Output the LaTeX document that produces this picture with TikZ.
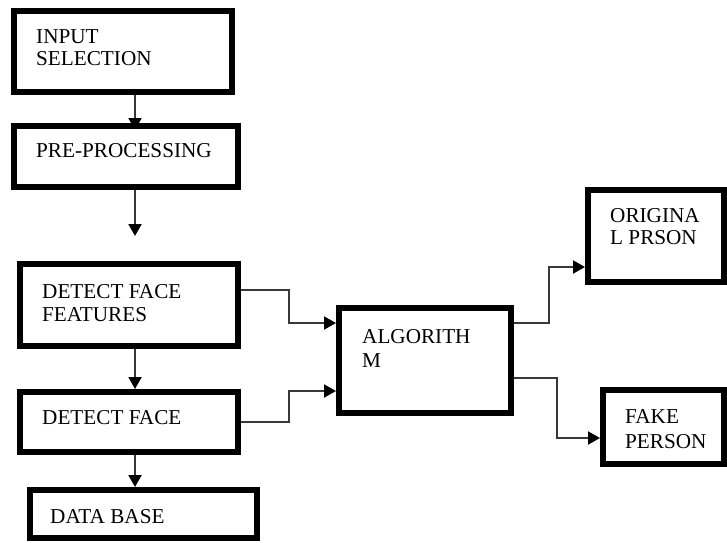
\documentclass[tikz,border=0pt]{standalone}
\usepackage{fontspec}
\setmainfont{Liberation Serif}
\usetikzlibrary{arrows.meta,backgrounds}
\begin{document}
\begin{tikzpicture}[x=1pt,y=-1pt,
  box/.style={draw=black,line width=6pt,fill=white,rectangle,inner sep=0pt},
  lbl/.style={anchor=base west,inner sep=0pt,align=left,font=\fontsize{21.2}{23}\selectfont},
  conn/.style={draw=black!78,line width=2pt,-{Triangle[length=12pt,width=13pt,color=black]}}]
\useasboundingbox (0,0) rectangle (727,542);
% boxes
\node[box,minimum width=218pt,minimum height=81pt] (b1) at (123,51.5) {};
\node[box,minimum width=224pt,minimum height=61pt] (b2) at (126,156.5) {};
\node[box,minimum width=218pt,minimum height=82pt] (b3) at (129,305) {};
\node[box,minimum width=218pt,minimum height=60pt] (b4) at (129,422) {};
\node[box,minimum width=227pt,minimum height=48pt] (b5) at (143.5,514) {};
\node[box,minimum width=172pt,minimum height=105pt] (alg) at (425,360.5) {};
\node[box,minimum width=136pt,minimum height=92pt] (orig) at (656,236) {};
\node[box,minimum width=121pt,minimum height=74pt] (fake) at (663.5,427) {};
% labels (base = baseline of last line)
\node[lbl,font=\fontsize{21.2}{21.5}\selectfont] (t1) at (36,65) {INPUT\\SELECTION};
\node[lbl] (t2) at (36,157) {PRE-PROCESSING};
\node[lbl] (t3) at (42,321) {DETECT FACE\\FEATURES};
\node[lbl] (t4) at (42,424) {DETECT FACE};
\node[lbl] (t5) at (50,523) {DATA BASE};
\node[lbl,font=\fontsize{21.2}{24}\selectfont] (t6) at (362,367) {ALGORITH\\M};
\node[lbl,font=\fontsize{21.2}{21.5}\selectfont] (t7) at (610,244) {ORIGINA\\L PRSON};
\node[lbl,font=\fontsize{21.2}{25}\selectfont] (t8) at (625,448) {FAKE\\PERSON};
% coordinates
\coordinate (vx) at (135,0);
\coordinate (free) at (135,236);
\coordinate (e1a) at (289,290);
\coordinate (e1b) at (289,323);
\coordinate (e2a) at (289,422);
\coordinate (e2b) at (289,391);
\coordinate (e3a) at (549,323);
\coordinate (e3b) at (549,267);
\coordinate (e4a) at (557,378);
\coordinate (e4b) at (557,438);
\begin{scope}[on background layer]
\draw[conn,shorten >=-7pt] (b1.south -| vx) -- (b2.north -| vx);
\draw[conn] (b2.south -| vx) -- (free);
\draw[conn] (b3.south -| vx) -- (b4.north -| vx);
\draw[conn] (b4.south -| vx) -- (b5.north -| vx);
\draw[conn] (b3.east |- e1a) -- (e1a) -- (e1b) -- (alg.west |- e1b);
\draw[conn] (b4.east |- e2a) -- (e2a) -- (e2b) -- (alg.west |- e2b);
\draw[conn] (alg.east |- e3a) -- (e3a) -- (e3b) -- (orig.west |- e3b);
\draw[conn] (alg.east |- e4a) -- (e4a) -- (e4b) -- (fake.west |- e4b);
\end{scope}
\end{tikzpicture}
\end{document}
